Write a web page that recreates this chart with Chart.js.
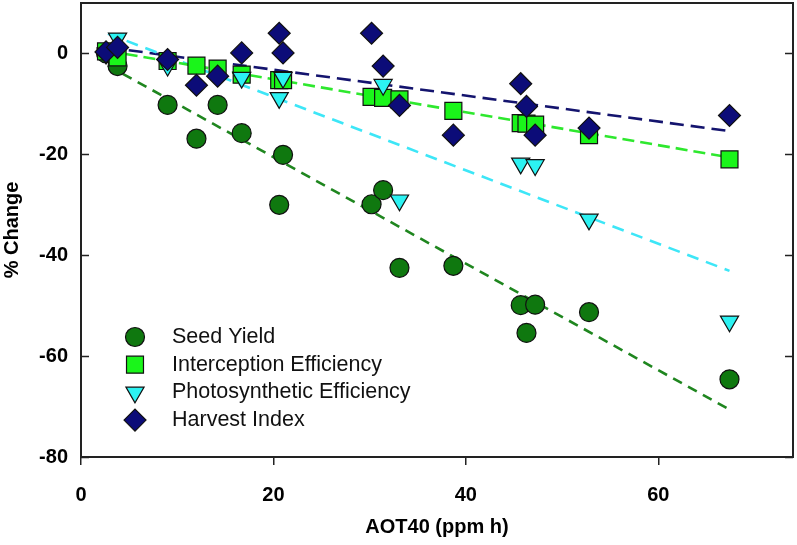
<!DOCTYPE html>
<html>
<head>
<meta charset="utf-8">
<script src="https://cdn.jsdelivr.net/npm/chart.js@4/dist/chart.umd.min.js"></script>
<style>
  html, body { margin:0; padding:0; background:#fff; }
  #c { display:block; }
</style>
</head>
<body>
<canvas id="c" width="797" height="545"></canvas>
<script>
// AOT40 values (ppm h)
const aot40 = [2.6, 3.8, 9.0, 12.0, 14.2, 16.7, 20.6, 21.0, 30.2, 31.4, 33.1, 38.7, 45.7, 46.3, 47.2, 52.8, 67.4];

// % change per series (null = not visible)
const seedYield    = [0, -2.5, -10.2, -16.9, -10.2, -15.8, -30.0, -20.1, -29.9, -27.1, -42.5, -42.1, -49.9, -55.4, -49.8, -51.3, -64.6];
const interception = [0.4, -0.8, -1.5, -2.4, -3.0, -4.2, -5.3, -5.3, -8.6, -8.8, -9.1, -11.4, -13.8, -13.9, -14.1, -16.2, -21.0];
const photosynth   = [0, 3.0, -2.4, null, null, -4.8, -8.8, -4.8, null, -6.2, -29.1, null, -21.8, null, -22.1, -32.9, -53.1];
const harvestIdx   = [0.3, 1.2, -1.2, -6.3, -4.5, 0.1, 4.0, 0.1, 4.0, -2.5, -10.3, -16.2, -6.0, -10.5, -16.2, -14.8, -12.3];

// regression lines, end points
const fitX       = [2.8, 67.4];
const seedFit    = [-2.4, -70.6];
const interFit   = [0.5, -20.6];
const photoFit   = [3.9, -43.1];
const harvestFit = [1.2, -15.4];

const xTicks = [0, 20, 40, 60];
const yTicks = [-80, -60, -40, -20, 0];

const FONT = "'Liberation Sans', Arial, sans-serif";

function pts(ys){
  return aot40.map((x,i) => ({ x, y: ys[i] })).filter(p => p.y !== null);
}
function fit(ys){
  return fitX.map((x,i) => ({ x, y: ys[i] }));
}

const series = [
  { label:"Seed Yield", data:seedYield, fill:"#0f780f", style:"circle", r:9.5, rot:0, order:4 },
  { label:"Interception Efficiency", data:interception, fill:"#1af51a", style:"rect", r:12, rot:0, order:3 },
  { label:"Photosynthetic Efficiency", data:photosynth, fill:"#2cf2f2", style:"triangle", r:10.5, rot:180, order:2 },
  { label:"Harvest Index", data:harvestIdx, fill:"#0c0c78", style:"rectRot", r:11, rot:0, order:1 },
];

const fits = [
  { data:seedFit, color:"#1f861f", dash:[10,7] },
  { data:interFit, color:"#2ee82e", dash:[12,6] },
  { data:photoFit, color:"#3de6f7", dash:[12,8] },
  { data:harvestFit, color:"#14146e", dash:[14,7] },
];

const datasets = [];
fits.forEach(f => {
  datasets.push({
    type:"line", data:fit(f.data), showLine:true, pointRadius:0,
    borderColor:f.color, borderWidth:2.6, borderDash:f.dash, fill:false, order:10
  });
});
series.forEach(s => {
  datasets.push({
    type:"scatter", label:s.label, data:pts(s.data),
    pointStyle:s.style, pointRadius:s.r, pointRotation:s.rot,
    backgroundColor:s.fill, borderColor:"#111", borderWidth:1.2, order:s.order
  });
});

// frame, inside y ticks, legend
const framePlugin = {
  id:"frame",
  afterDatasetsDraw(chart){
    const { ctx, chartArea:a, scales } = chart;
    ctx.save();
    ctx.strokeStyle = "#222";
    ctx.lineWidth = 1.5;
    yTicks.forEach(v => {
      const y = Math.round(scales.y.getPixelForValue(v)) + 0.5;
      ctx.beginPath();
      ctx.moveTo(a.left, y); ctx.lineTo(a.left + 8, y);
      ctx.moveTo(a.right, y); ctx.lineTo(a.right - 8, y);
      ctx.stroke();
    });
    ctx.lineWidth = 2;
    ctx.strokeRect(a.left, a.top, a.right - a.left, a.bottom - a.top);

    // legend
    const lx = 135, tx = 172;
    let ly = 337;
    series.forEach(s => {
      ctx.fillStyle = s.fill;
      ctx.strokeStyle = "#111";
      ctx.lineWidth = 1.2;
      Chart.helpers.drawPoint(ctx, { pointStyle:s.style, radius:s.r, rotation:s.rot, borderWidth:1.2 }, lx, ly);
      ctx.fillStyle = "#111";
      ctx.font = "21.5px " + FONT;
      ctx.textBaseline = "middle";
      ctx.textAlign = "left";
      ctx.fillText(s.label, tx, ly);
      ly += 27.7;
    });
    ctx.restore();
  }
};

new Chart(document.getElementById("c"), {
  type:"scatter",
  data:{ datasets },
  options:{
    responsive:false,
    animation:false,
    layout:{ autoPadding:false, padding:{ left:0, right:4, top:3, bottom:0 } },
    plugins:{ legend:{ display:false }, tooltip:{ enabled:false } },
    scales:{
      x:{
        type:"linear", min:0, max:74,
        afterBuildTicks: s => { s.ticks = xTicks.map(v => ({ value:v })); },
        afterFit: s => { s.height = 88; s.paddingLeft = 0; s.paddingRight = 0; },
        border:{ display:false },
        grid:{ drawOnChartArea:false, drawTicks:true, tickLength:8, color:"#222", lineWidth:1.5 },
        ticks:{ color:"#000", padding:18, maxRotation:0, font:{ family:FONT, size:20, weight:"bold" } },
        title:{ display:true, text:"AOT40 (ppm h)", color:"#000", padding:{ top:0, bottom:6 },
                font:{ family:FONT, size:20, weight:"bold" } }
      },
      y:{
        type:"linear", min:-80, max:10,
        afterBuildTicks: s => { s.ticks = yTicks.map(v => ({ value:v })); },
        afterFit: s => { s.width = 81; s.paddingTop = 0; s.paddingBottom = 0; },
        border:{ display:false },
        grid:{ display:true, drawOnChartArea:false, drawTicks:false },
        ticks:{ color:"#000", padding:13, font:{ family:FONT, size:20, weight:"bold" } },
        title:{ display:true, text:"% Change", color:"#000", padding:{ top:0, bottom:0 },
                font:{ family:FONT, size:20, weight:"bold" } }
      }
    }
  },
  plugins:[framePlugin]
});
</script>
</body>
</html>
